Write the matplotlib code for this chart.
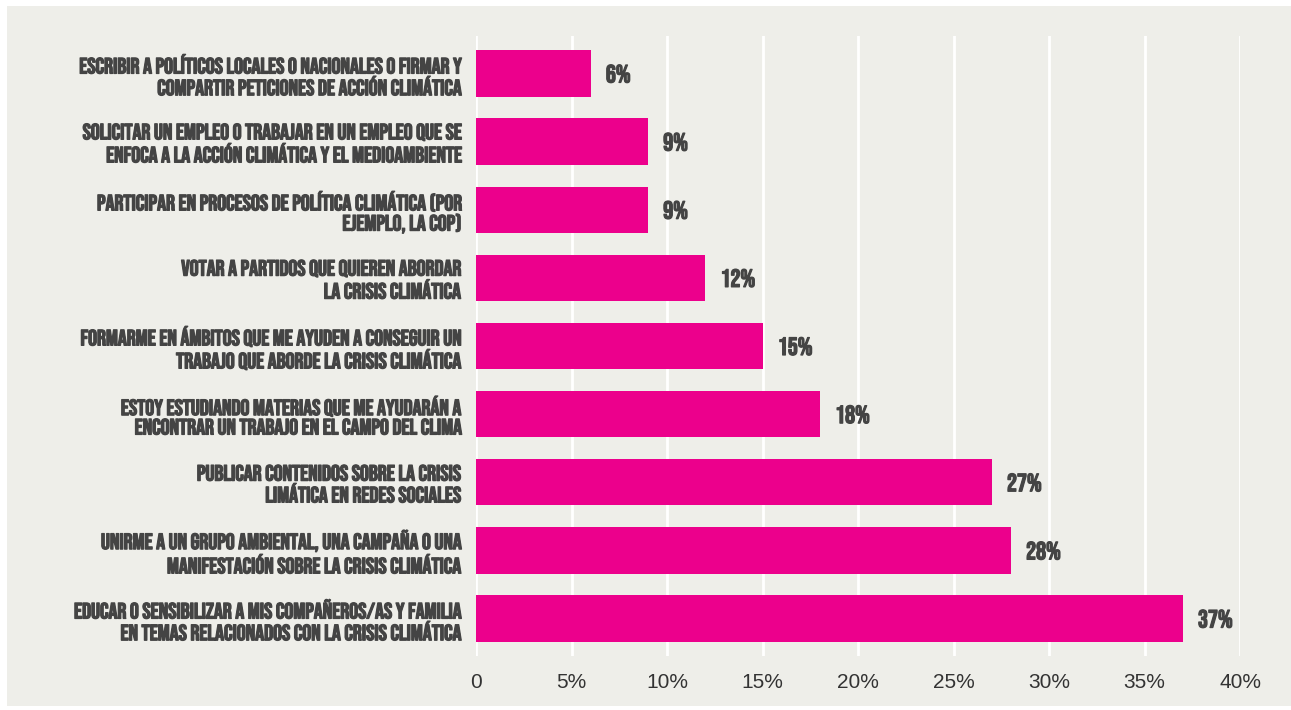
import matplotlib.pyplot as plt
import matplotlib.patheffects as pe
from matplotlib.patches import Rectangle

# Survey answers, top to bottom as they appear on the chart
labels = [
    "ESCRIBIR A POLÍTICOS LOCALES O NACIONALES O FIRMAR Y\nCOMPARTIR PETICIONES DE ACCIÓN CLIMÁTICA",
    "SOLICITAR UN EMPLEO O TRABAJAR EN UN EMPLEO QUE SE\nENFOCA A LA ACCIÓN CLIMÁTICA Y EL MEDIOAMBIENTE",
    "PARTICIPAR EN PROCESOS DE POLÍTICA CLIMÁTICA (POR\nEJEMPLO, LA COP)",
    "VOTAR A PARTIDOS QUE QUIEREN ABORDAR\nLA CRISIS CLIMÁTICA",
    "FORMARME EN ÁMBITOS QUE ME AYUDEN A CONSEGUIR UN\nTRABAJO QUE ABORDE LA CRISIS CLIMÁTICA",
    "ESTOY ESTUDIANDO MATERIAS QUE ME AYUDARÁN A\nENCONTRAR UN TRABAJO EN EL CAMPO DEL CLIMA",
    "PUBLICAR CONTENIDOS SOBRE LA CRISIS\nLIMÁTICA EN REDES SOCIALES",
    "UNIRME A UN GRUPO AMBIENTAL, UNA CAMPAÑA O UNA\nMANIFESTACIÓN SOBRE LA CRISIS CLIMÁTICA",
    "EDUCAR O SENSIBILIZAR A MIS COMPAÑEROS/AS Y FAMILIA\nEN TEMAS RELACIONADOS CON LA CRISIS CLIMÁTICA",
]
values = [6, 9, 9, 12, 15, 18, 27, 28, 37]
xticks = [0, 5, 10, 15, 20, 25, 30, 35, 40]
xticklabels = ["0", "5%", "10%", "15%", "20%", "25%", "30%", "35%", "40%"]

BG = "#eeeee9"
PINK = "#ec008c"
TEXT = "#444444"
label_font = ["Bebas Neue", "DejaVu Sans"]
# Bebas only ships one weight, so thicken it with a thin outline
heavy = [pe.withStroke(linewidth=0.9, foreground=TEXT)]

fig = plt.figure(figsize=(12.91, 7.10), dpi=100)
fig.patch.set_facecolor("white")
# light panel behind the chart
fig.patches.append(Rectangle((7 / 1291, 0.006), 1 - 7 / 1291, 1 - 6 / 710 - 0.006,
                             transform=fig.transFigure, facecolor=BG,
                             edgecolor="none", zorder=-10))

ax = fig.add_axes([476 / 1291, 1 - 656 / 710, (1240 - 476) / 1291, (656 - 36) / 710])
ax.patch.set_alpha(0)

y = list(range(len(values)))
ax.barh(y, values, height=0.68, color=PINK, zorder=3)
ax.set_ylim(len(values) - 0.45, -0.55)
ax.set_xlim(0, 40)

for yi, v in zip(y, values):
    ax.annotate(f"{v}%", (v, yi), xytext=(11, 0), textcoords="offset points",
                ha="left", va="center", fontsize=18, color=TEXT,
                family=label_font, path_effects=heavy)

ax.set_yticks(y)
ax.set_yticklabels(labels, family=label_font, fontsize=16, color=TEXT,
                   linespacing=1.13)
for t in ax.get_yticklabels():
    t.set_path_effects(heavy)
ax.set_xticks(xticks)
ax.set_xticklabels(xticklabels, fontsize=15, color="#333333",
                   family=["Liberation Sans", "DejaVu Sans"])
ax.tick_params(axis="both", length=0)
ax.tick_params(axis="y", pad=11)
ax.tick_params(axis="x", pad=12)

ax.grid(axis="x", color="white", linewidth=2, zorder=0)
for s in ax.spines.values():
    s.set_visible(False)

fig.savefig("out.png", dpi=100, facecolor=fig.get_facecolor())
